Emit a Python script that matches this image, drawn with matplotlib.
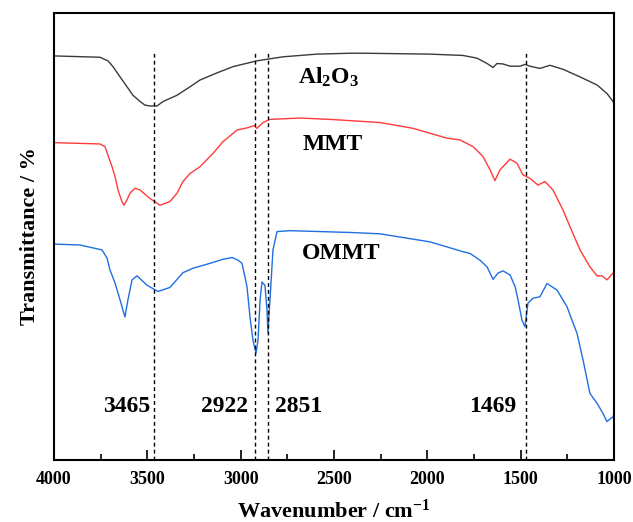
import numpy as np
import matplotlib
matplotlib.use("Agg")
import matplotlib.pyplot as plt
from matplotlib.ticker import MultipleLocator

plt.rcParams.update({
    "font.family": "Liberation Serif",
    "font.weight": "bold",
    "axes.labelweight": "bold",
    "mathtext.fontset": "custom",
    "mathtext.rm": "Liberation Serif:bold",
    "mathtext.it": "Liberation Serif:italic:bold",
    "mathtext.bf": "Liberation Serif:bold",
    "mathtext.default": "rm",
})

# FTIR spectra: wavenumber (cm-1) vs transmittance (%, offset traces)
al2o3_wn = [4000, 3754, 3711, 3684, 3646, 3609, 3577, 3539, 3513, 3486, 3448, 3416,
            3341, 3271, 3218, 3127, 3041, 2913, 2773, 2591, 2414, 2345, 1986, 1809,
            1734, 1680, 1648, 1627, 1595, 1557, 1504, 1477, 1450, 1397, 1343, 1273,
            1182, 1091, 1038, 1005, 1000]
al2o3_t = [90.4, 90.1, 89.3, 88.0, 85.7, 83.5, 81.6, 80.2, 79.4, 79.2, 79.2, 80.2,
           81.6, 83.5, 85.0, 86.6, 88.0, 89.3, 90.2, 90.8, 91.0, 91.0, 90.8, 90.5,
           89.9, 88.7, 87.8, 88.7, 88.6, 88.1, 88.1, 88.5, 88.1, 87.6, 88.3, 87.4,
           85.7, 83.9, 82.0, 80.2, 79.6]

mmt_wn = [4000, 3754, 3727, 3711, 3689, 3673, 3657, 3636, 3625, 3609, 3593, 3566,
          3539, 3486, 3432, 3379, 3341, 3309, 3271, 3218, 3148, 3095, 3020, 2966,
          2929, 2913, 2880, 2843, 2682, 2521, 2254, 2077, 1895, 1825, 1755, 1702,
          1664, 1638, 1611, 1557, 1520, 1488, 1450, 1407, 1370, 1327, 1273, 1236,
          1182, 1129, 1091, 1064, 1038, 1005, 1000]
mmt_t = [71.0, 70.7, 70.1, 68.2, 65.6, 63.4, 60.4, 57.8, 57.0, 58.2, 59.7, 60.8,
         60.4, 58.5, 57.0, 57.8, 59.7, 62.3, 64.1, 65.6, 68.6, 71.2, 73.8, 74.3,
         74.8, 74.2, 75.5, 76.2, 76.5, 76.2, 75.5, 74.2, 72.0, 71.6, 70.1, 67.9,
         64.9, 62.5, 64.9, 67.3, 66.4, 63.8, 63.0, 61.5, 62.3, 60.4, 55.9, 52.2,
         47.0, 43.2, 41.2, 41.2, 40.3, 41.8, 42.3]

ommt_wn = [4000, 3861, 3743, 3716, 3700, 3673, 3646, 3620, 3604, 3582, 3555, 3502,
           3443, 3379, 3309, 3255, 3164, 3095, 3046, 3014, 2993, 2977, 2966, 2950,
           2934, 2918, 2907, 2896, 2886, 2870, 2859, 2854, 2843, 2827, 2805, 2736,
           2414, 2254, 1986, 1809, 1771, 1718, 1680, 1648, 1622, 1595, 1557, 1530,
           1514, 1493, 1477, 1461, 1434, 1397, 1359, 1305, 1252, 1198, 1166, 1129,
           1091, 1059, 1038, 1005, 1000]
ommt_t = [48.3, 48.1, 47.0, 45.2, 42.5, 39.6, 35.8, 32.0, 35.8, 40.3, 41.2, 39.1,
          37.7, 38.6, 41.9, 42.9, 44.0, 44.9, 45.3, 44.7, 44.0, 41.0, 38.7, 32.0,
          26.8, 23.9, 26.8, 35.8, 39.8, 39.1, 33.6, 28.4, 35.8, 47.0, 51.1, 51.3,
          50.9, 50.6, 48.8, 46.6, 46.2, 44.7, 43.2, 40.4, 41.8, 42.3, 41.4, 38.8,
          35.8, 31.3, 29.8, 35.1, 36.2, 36.5, 39.5, 38.0, 34.3, 28.3, 22.4, 14.9,
          12.7, 10.4, 8.6, 9.7, 10.3]

peaks = [3465, 2922, 2851, 1469]
peak_labels = ["3465", "2922", "2851", "1469"]
peak_label_x = [3609, 3089, 2687, 1648]

fig = plt.figure(figsize=(6.33, 5.22), dpi=100)
ax = fig.add_axes([0.0853, 0.1188, 0.8847, 0.8563])

ax.plot(al2o3_wn, al2o3_t, color="#3a3a3a", lw=1.0)
ax.plot(mmt_wn, mmt_t, color="#ff3b3b", lw=1.0)
ax.plot(ommt_wn, ommt_t, color="#1f6fe0", lw=1.0)

ax.vlines(peaks, 0, 91.3, colors="black", linestyles=(0, (2.8, 2.2)), lw=1.0)

ax.text(2693, 85.5, r"Al$_{2}$O$_{3}$", fontsize=17, ha="left", va="center")
ax.text(2670, 70.5, "MMT", fontsize=17, ha="left", va="center")
ax.text(2670, 46.3, "OMMT", fontsize=17, ha="left", va="center")
for x, s in zip(peak_label_x, peak_labels):
    ax.text(x, 11.9, s, fontsize=17, ha="center", va="center")

ax.set_xlim(4000, 1000)
ax.set_ylim(0, 100)
ax.xaxis.set_major_locator(MultipleLocator(500))
ax.xaxis.set_minor_locator(MultipleLocator(250))
ax.tick_params(axis="x", which="major", direction="in", length=7, width=1.2,
               labelsize=13, pad=8, top=False)
ax.tick_params(axis="x", which="minor", direction="in", length=4, width=1.2, top=False)
ax.set_yticks([])
for sp in ax.spines.values():
    sp.set_linewidth(1.5)

ax.set_xlabel(r"Wavenumber / cm$^{-1}$", fontsize=16, fontweight="bold", labelpad=8)
ax.set_ylabel("Transmittance / %", fontsize=16, fontweight="bold", labelpad=10)

fig.savefig("out.png", dpi=100)
